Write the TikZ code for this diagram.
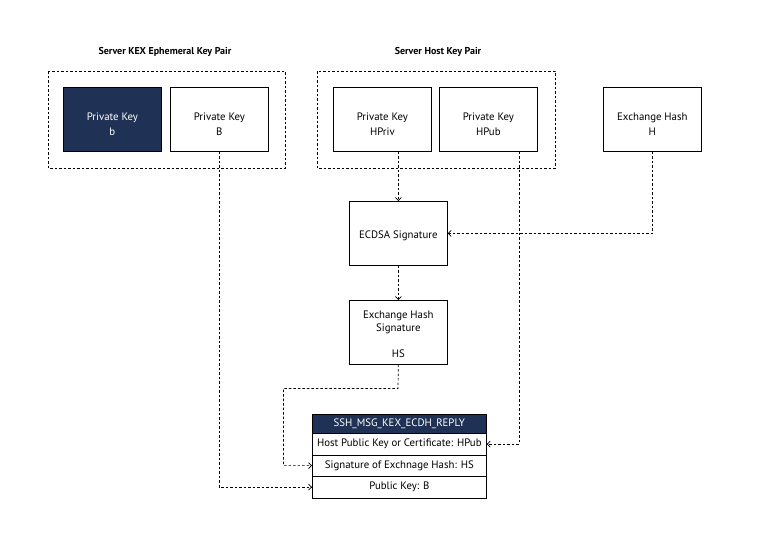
\documentclass[tikz,border=0pt]{standalone}
\usepackage{fontspec}
\setmainfont{PT Sans}
\usetikzlibrary{arrows.meta}
\definecolor{navy}{RGB}{31,49,84}
\begin{document}
\begin{tikzpicture}[x=1pt,y=-1pt,
  font=\fontsize{10.8}{15}\selectfont,
  keybox/.style={draw=black, line width=0.7pt, minimum width=98pt, minimum height=64pt, inner sep=0pt, anchor=north west},
  kt/.style={align=center, yshift=-5pt, inner sep=0pt},
  kt2/.style={align=center, yshift=-2pt, inner sep=0pt},
  groupbox/.style={draw=black, dash pattern=on 2.5pt off 2pt, line width=0.7pt},
  conn/.style={dash pattern=on 2.5pt off 2pt, line width=0.7pt, -{Straight Barb[length=3pt,width=6pt]}},
  row/.style={draw=black, line width=0.7pt, minimum width=174pt, minimum height=21.5pt, inner sep=0pt, anchor=north west},
  title/.style={font=\fontsize{10}{12}\selectfont\bfseries}
]
\useasboundingbox (0,0) rectangle (768,554);
% titles
\node[title] (t1) at (165,52) {Server KEX Ephemeral Key Pair};
\node[title] (t2) at (438,52) {Server Host Key Pair};
% groups
\draw[groupbox] (48,71) rectangle (285,168);
\draw[groupbox] (317,71) rectangle (555,168);
% key boxes
\node[keybox, fill=navy, label={[kt, text=white]center:Private Key\\b}] (kb) at (63,87) {};
\node[keybox, label={[kt]center:Private Key\\B}] (kB) at (170,87) {};
\node[keybox, label={[kt]center:Private Key\\HPriv}] (hpriv) at (333,87) {};
\node[keybox, label={[kt]center:Private Key\\HPub}] (hpub) at (439,87) {};
\node[keybox, label={[kt]center:Exchange Hash\\H}] (hash) at (603,87) {};
\node[keybox, label={[kt2]center:ECDSA Signature}] (ecdsa) at (349,201) {};
\node[keybox, label={[kt2]center:Exchange Hash\\[-2.5pt]Signature\\[11pt]HS}] (hs) at (349,300) {};
% table
\node[row, fill=navy, text=white, minimum height=19pt] (hdr) at (312,414) {SSH\_MSG\_KEX\_ECDH\_REPLY};
\node[row] (r1) at (312,433) {Host Public Key or Certificate: HPub};
\node[row] (r2) at (312,454.5) {Signature of Exchnage Hash: HS};
\node[row] (r3) at (312,476) {Public Key: B};
% connectors
\draw[conn] (ecdsa.north |- hpriv.south) -- (ecdsa.north);
\draw[conn] (ecdsa.south) -- (hs.north);
\draw[conn] (hash.south) |- (ecdsa.east);
\coordinate (c1) at (398,388.5);
\coordinate (c2) at (283.5,388.5);
\draw[conn] (hs.south) -- (c1) -- (c2) |- (r2.west);
\draw[conn] (hpub.south -| 519,0) |- (r1.east);
\draw[conn] (kB.south -| 219,0) |- (r3.west);
\end{tikzpicture}
\end{document}
